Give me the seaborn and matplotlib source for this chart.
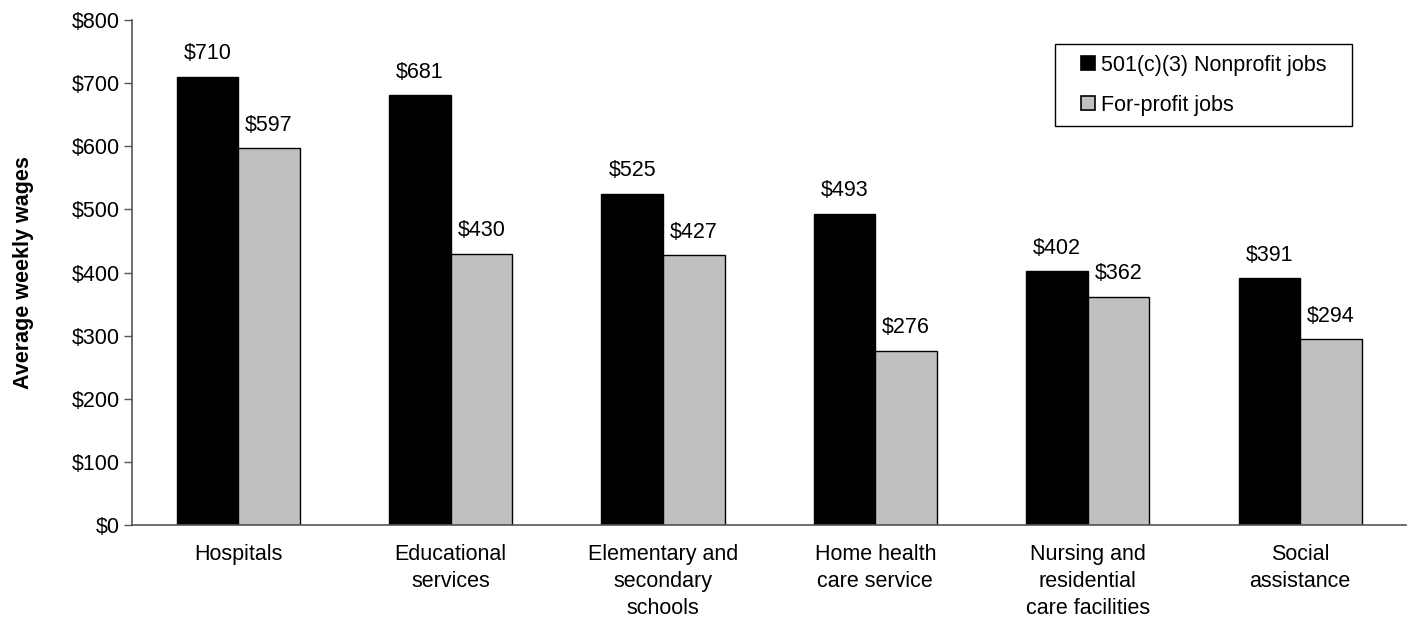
import matplotlib
matplotlib.use("Agg")
import matplotlib.pyplot as plt
import seaborn as sns
import pandas as pd
from matplotlib.lines import Line2D
from matplotlib.patches import Rectangle

categories = [
    "Hospitals",
    "Educational\nservices",
    "Elementary and\nsecondary\nschools",
    "Home health\ncare service",
    "Nursing and\nresidential\ncare facilities",
    "Social\nassistance",
]
nonprofit = [710, 681, 525, 493, 402, 391]
forprofit = [597, 430, 427, 276, 362, 294]
series_names = ["501(c)(3) Nonprofit jobs", "For-profit jobs"]
y_ticks = [0, 100, 200, 300, 400, 500, 600, 700, 800]

df = pd.DataFrame({
    "category": categories * 2,
    "wage": nonprofit + forprofit,
    "series": [series_names[0]] * len(categories) + [series_names[1]] * len(categories),
})

sns.set_theme(style="white")
plt.rcParams["font.family"] = ["Liberation Sans", "DejaVu Sans"]
plt.rcParams["text.color"] = "#000000"
plt.rcParams["axes.labelcolor"] = "#000000"
plt.rcParams["xtick.color"] = "#000000"
plt.rcParams["ytick.color"] = "#000000"

FS = 15.5

fig = plt.figure(figsize=(14.16, 6.2), dpi=100)
ax = fig.add_axes([0.0932, 0.1532, 0.9, 0.8145])

colors = ["#000000", "#C0C0C0"]
sns.barplot(data=df, x="category", y="wage", hue="series", order=categories,
            hue_order=series_names, palette=colors, width=0.58,
            edgecolor="#000000", linewidth=1.0, ax=ax, legend=False)

for cont in ax.containers:
    ax.bar_label(cont, labels=[f"${v:.0f}" for v in cont.datavalues],
                 padding=9, fontsize=FS, color="#000000")

ax.set_ylim(0, 800)
ax.set_xlim(-0.5, len(categories) - 0.5)
ax.set_yticks(y_ticks)
ax.set_yticklabels([f"${v}" for v in y_ticks], fontsize=FS)
ax.tick_params(axis="y", which="major", direction="out", length=6, width=1,
               color="#555555", pad=3, left=True)
ax.tick_params(axis="x", length=0, pad=14, labelsize=FS)
for lbl in ax.get_xticklabels():
    lbl.set_linespacing(1.37)
ax.set_xlabel("")
ax.set_ylabel("Average weekly wages", fontsize=FS, fontweight="bold", labelpad=27)

for side in ["top", "right"]:
    ax.spines[side].set_visible(False)
for side in ["left", "bottom"]:
    ax.spines[side].set_color("#555555")
    ax.spines[side].set_linewidth(1.2)

handles = [Line2D([], [], linestyle="none", marker="s", markersize=10,
                  markerfacecolor=c, markeredgecolor="#000000", markeredgewidth=1.2)
           for c in colors]
leg = ax.legend(handles, series_names, loc="upper right",
                bbox_to_anchor=(0.9455, 0.9525), fontsize=FS, frameon=False,
                handlelength=0.65, handletextpad=0.28, labelspacing=0.88,
                borderpad=0.5, borderaxespad=0.0)
leg.set_zorder(6)

# Frame around the legend, wider on the sides than on top and bottom
fig.canvas.draw()
bb = leg.get_window_extent().transformed(fig.transFigure.inverted())
dx = 15 / fig.bbox.width
frame = Rectangle((bb.x0 - dx, bb.y0), bb.width + 2 * dx, bb.height,
                  transform=fig.transFigure, facecolor="white",
                  edgecolor="#000000", linewidth=1.0, zorder=5, clip_on=False)
ax.add_patch(frame)

fig.savefig("out.png", dpi=100)
